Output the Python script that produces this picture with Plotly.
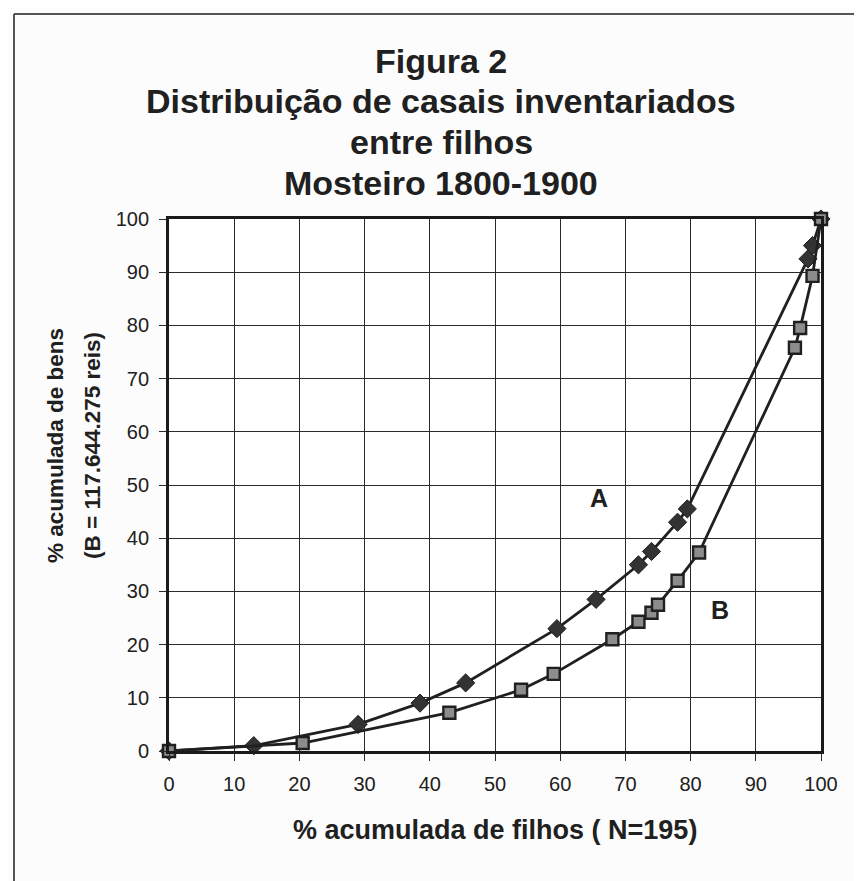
import plotly.graph_objects as go

# ---- data ----
x_A = [0, 13, 29, 38.5, 45.5, 59.5, 65.5, 72, 74, 78, 79.5, 98, 98.7, 100]
y_A = [0, 1, 5, 9, 12.8, 23, 28.5, 35, 37.5, 43, 45.5, 92.5, 95, 100]
x_B = [0, 20.5, 43, 54, 59, 68, 72, 74, 75, 78, 81.3, 96, 96.8, 98.7, 100]
y_B = [0, 1.5, 7.2, 11.5, 14.5, 21, 24.3, 26, 27.5, 32, 37.3, 75.8, 79.5, 89.3, 100]
tick_vals = [0, 10, 20, 30, 40, 50, 60, 70, 80, 90, 100]
title_lines = ["Figura 2", "Distribuição de casais inventariados", "entre filhos", "Mosteiro 1800-1900"]
x_title = "% acumulada de filhos ( N=195)"
y_title_lines = ["% acumulada de bens", "(B = 117.644.275 reis)"]

OFF = 8  # page body margin
W, H = 862 - OFF, 881 - OFF
L, R, T, B = 169 - OFF, 821 - OFF, 219 - OFF, 751 - OFF
FONT = "Liberation Sans, Arial, sans-serif"
INK = "#202020"

def px(p):
    return (p - OFF - L) / (R - L)

def py(p):
    return (B - (p - OFF)) / (B - T)

fig = go.Figure()
fig.add_trace(go.Scatter(
    x=x_A, y=y_A, mode="lines+markers", name="A", cliponaxis=False,
    line=dict(color=INK, width=2.8),
    marker=dict(symbol="diamond", size=14, color="#333333", line=dict(color=INK, width=1)),
))
fig.add_trace(go.Scatter(
    x=x_B, y=y_B, mode="lines+markers", name="B", cliponaxis=False,
    line=dict(color=INK, width=2.8),
    marker=dict(symbol="square", size=12, color="#8c8c8c", line=dict(color=INK, width=2.4)),
))

ann = []
title_y = [61, 101, 142, 183]
title_x = 441
for t, yy in zip(title_lines, title_y):
    ann.append(dict(text="<b>%s</b>" % t, x=px(title_x), y=py(yy), xref="paper", yref="paper",
                    xanchor="center", yanchor="middle", showarrow=False,
                    font=dict(family=FONT, size=34, color=INK)))
ann.append(dict(text="<b>%s</b>" % x_title, x=px(495), y=py(830), xref="paper", yref="paper",
                xanchor="center", yanchor="middle", showarrow=False,
                font=dict(family=FONT, size=27, color=INK)))
for t, xx in zip(y_title_lines, [55, 92]):
    ann.append(dict(text="<b>%s</b>" % t, x=px(xx), y=py(446), xref="paper", yref="paper",
                    xanchor="center", yanchor="middle", showarrow=False, textangle=-90,
                    font=dict(family=FONT, size=22.5, color=INK)))
ann.append(dict(text="<b>A</b>", x=66, y=47.6, xref="x", yref="y", showarrow=False,
                font=dict(family=FONT, size=25, color=INK)))
ann.append(dict(text="<b>B</b>", x=84.5, y=26.5, xref="x", yref="y", showarrow=False,
                font=dict(family=FONT, size=25, color=INK)))

shapes = [
    dict(type="line", xref="paper", yref="paper", x0=px(14), x1=px(14), y0=py(14), y1=py(890),
         line=dict(color="#555", width=2)),
    dict(type="line", xref="paper", yref="paper", x0=px(14), x1=px(856), y0=py(14), y1=py(14),
         line=dict(color="#555", width=2)),
    dict(type="line", xref="paper", yref="paper", x0=px(856), x1=px(856), y0=py(14), y1=py(890),
         line=dict(color="#bbb", width=1)),
]

axis_common = dict(
    range=[0, 100], tickvals=tick_vals, ticktext=[str(v) for v in tick_vals],
    showgrid=True, gridcolor="#2a2a2a", gridwidth=1.4,
    showline=True, linecolor="#1a1a1a", linewidth=2.8, mirror=True,
    ticks="outside", ticklen=7, tickcolor="#2a2a2a", tickwidth=1.4,
    tickfont=dict(family=FONT, size=20, color=INK),
    zeroline=False, fixedrange=True,
)

fig.update_layout(
    width=W, height=H, autosize=False,
    margin=dict(l=L, r=W - R, t=T, b=H - B),
    paper_bgcolor="#fcfcfc", plot_bgcolor="#ffffff",
    showlegend=False,
    xaxis=dict(**axis_common),
    yaxis=dict(**axis_common),
    annotations=ann, shapes=shapes,
)
fig.update_xaxes(ticklabelstandoff=6)
fig.update_yaxes(ticklabelstandoff=6)

fig.write_html("out.html")
